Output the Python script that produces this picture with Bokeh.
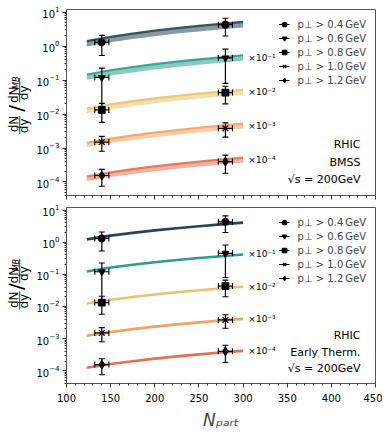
import math
from bokeh.plotting import figure
from bokeh.models import (Range1d, Label, Legend, LegendItem, ColumnDataSource,
                          SingleIntervalTicker)
from bokeh.layouts import column, row
from bokeh.embed import file_html
from bokeh.resources import INLINE
from bokeh.core.properties import value

# ---------------- data ----------------
cuts = ["0.4", "0.6", "0.8", "1.0", "1.2"]
scales = [1.0, 1e-1, 1e-2, 1e-3, 1e-4]
scale_labels = ["", "×10⁻¹", "×10⁻²", "×10⁻³", "×10⁻⁴"]
colors = ["#264653", "#2a9d8f", "#e9c46a", "#f4a261", "#e76f51"]
markers = ["circle", "inverted_triangle", "square", "x", "diamond"]
x_ticks = [100, 150, 200, 250, 300, 350, 400, 450]

# measured points (unscaled), symmetric errors
npart_pts = [140, 280]
npart_err = [8, 8]
pt_04 = [1.30, 4.30]
pt_06 = [1.20, 4.50]
pt_08 = [1.32, 4.30]
pt_10 = [1.50, 3.80]
pt_12 = [1.55, 4.00]
err_04 = [0.77, 2.30]
err_06 = [1.05, 3.70]
err_08 = [0.75, 2.30]
err_10 = [0.70, 1.70]
err_12 = [0.80, 2.20]

# model curves (unscaled)
npart_model = [123, 150, 175, 200, 225, 250, 275, 300]
# Early thermalisation (lines, bottom panel)
et_04 = [1.22, 1.60, 1.95, 2.33, 2.72, 3.13, 3.57, 4.05]
et_06 = [1.23, 1.62, 1.98, 2.37, 2.78, 3.20, 3.66, 4.15]
et_08 = [1.23, 1.61, 1.97, 2.36, 2.76, 3.18, 3.62, 4.10]
et_10 = [1.23, 1.61, 1.97, 2.36, 2.77, 3.20, 3.64, 4.10]
et_12 = [1.24, 1.62, 1.98, 2.38, 2.79, 3.22, 3.67, 4.15]
# BMSS (bands, top panel)
bmss_lo_04 = [0.98, 1.30, 1.62, 1.97, 2.34, 2.72, 3.12, 3.55]
bmss_hi_04 = [1.40, 1.88, 2.35, 2.85, 3.38, 3.95, 4.55, 5.20]
bmss_lo_06 = [1.03, 1.36, 1.68, 2.04, 2.42, 2.82, 3.24, 3.70]
bmss_hi_06 = [1.46, 1.95, 2.43, 2.95, 3.50, 4.10, 4.70, 5.40]
bmss_lo_08 = [1.06, 1.39, 1.71, 2.07, 2.45, 2.85, 3.27, 3.72]
bmss_hi_08 = [1.45, 1.93, 2.40, 2.90, 3.43, 4.00, 4.60, 5.20]
bmss_lo_10 = [1.07, 1.40, 1.72, 2.08, 2.46, 2.86, 3.28, 3.73]
bmss_hi_10 = [1.43, 1.90, 2.37, 2.87, 3.40, 3.96, 4.55, 5.20]
bmss_lo_12 = [1.07, 1.40, 1.72, 2.08, 2.46, 2.86, 3.28, 3.73]
bmss_hi_12 = [1.45, 1.93, 2.40, 2.90, 3.43, 4.00, 4.60, 5.20]

pts = [pt_04, pt_06, pt_08, pt_10, pt_12]
errs = [err_04, err_06, err_08, err_10, err_12]
ets = [et_04, et_06, et_08, et_10, et_12]
bl = [bmss_lo_04, bmss_lo_06, bmss_lo_08, bmss_lo_10, bmss_lo_12]
bh = [bmss_hi_04, bmss_hi_06, bmss_hi_08, bmss_hi_10, bmss_hi_12]

FONT = "DejaVu Sans"
LAB_W = 33
PANEL_W = 349


def sc(lst, s):
    return [v * s for v in lst]


def make_panel(kind, height, top_b, bot_b, show_x):
    p = figure(width=PANEL_W, height=height, x_range=Range1d(100, 450),
               y_range=Range1d(4e-5, 12), y_axis_type="log",
               output_backend="svg", toolbar_location=None,
               min_border_left=30, min_border_right=7,
               min_border_top=top_b, min_border_bottom=bot_b)
    p.grid.visible = False
    p.outline_line_color = "#555555"
    p.background_fill_color = "white"
    p.border_fill_color = "white"
    for ax in (p.xaxis[0], p.yaxis[0]):
        ax.axis_line_color = "#555555"
        ax.major_tick_line_color = "#333333"
        ax.minor_tick_line_color = "#333333"
        ax.major_tick_in = 0
        ax.major_tick_out = 4
        ax.minor_tick_in = 0
        ax.minor_tick_out = 2
        ax.major_label_text_font = FONT
        ax.major_label_text_font_size = "10px"
        ax.major_label_text_color = "black"
    p.yaxis.major_label_standoff = 3
    p.xaxis.ticker = SingleIntervalTicker(interval=50, num_minor_ticks=5)
    if show_x:
        p.xaxis.axis_label = "Nₚₐᵣₜ"
        p.xaxis.axis_label_text_font = FONT
        p.xaxis.axis_label_text_font_style = "italic"
        p.xaxis.axis_label_text_font_size = "17px"
        p.xaxis.axis_label_standoff = 5
        p.xaxis.major_label_standoff = 6
    else:
        p.xaxis.major_label_overrides = {t: "" for t in x_ticks}
        p.xaxis.major_label_standoff = 0

    legend_items = []
    for i in range(5):
        s = scales[i]
        col = colors[i]
        if kind == "bmss":
            src = ColumnDataSource(dict(x=npart_model, lo=sc(bl[i], s), hi=sc(bh[i], s)))
            p.varea(x="x", y1="lo", y2="hi", source=src, fill_color=col, fill_alpha=0.55)
            p.line(x="x", y="hi", source=src, line_color=col, line_width=2.2, line_alpha=0.9)
            yend = (bl[i][-1] + bh[i][-1]) / 2 * s
        else:
            src = ColumnDataSource(dict(x=npart_model, y=sc(ets[i], s)))
            p.line(x="x", y="y", source=src, line_color=col, line_width=2.6)
            yend = ets[i][-1] * s
        if scale_labels[i]:
            p.text(x=[npart_model[-1] + 6], y=[yend], text=[scale_labels[i]],
                   text_font=value(FONT), text_font_size="9px",
                   text_baseline="middle", text_align="left", text_color="black")

        y = sc(pts[i], s)
        e = sc(errs[i], s)
        d = dict(x=npart_pts, y=y,
                 lo=[a - b for a, b in zip(y, e)], hi=[a + b for a, b in zip(y, e)],
                 xl=[a - b for a, b in zip(npart_pts, npart_err)],
                 xr=[a + b for a, b in zip(npart_pts, npart_err)])
        esrc = ColumnDataSource(d)
        p.segment(x0="x", y0="lo", x1="x", y1="hi", source=esrc, line_color="black", line_width=1.2)
        hseg = p.segment(x0="xl", y0="y", x1="xr", y1="y", source=esrc, line_color="black", line_width=1.2)
        for yc in ("hi", "lo"):
            p.scatter(x="x", y=yc, source=esrc, marker="dash", size=6, line_color="black", line_width=1.1)
        for xc in ("xl", "xr"):
            p.scatter(x=xc, y="y", source=esrc, marker="dash", angle=math.pi / 2, size=6,
                      line_color="black", line_width=1.1)
        msize = 8 if markers[i] in ("diamond", "x") else 6.5
        mk = p.scatter(x="x", y="y", source=esrc, marker=markers[i], size=msize,
                       fill_color="black", line_color="black", line_width=1.3)
        legend_items.append(LegendItem(label=f"p⊥ > {cuts[i]}\u2009GeV", renderers=[hseg, mk]))

    leg = Legend(items=legend_items, location="top_right",
                 label_text_font=FONT, label_text_font_size="10px",
                 glyph_width=11, glyph_height=12, label_height=12, spacing=2,
                 padding=3, margin=6, border_line_alpha=0, background_fill_alpha=0,
                 label_standoff=8)
    p.add_layout(leg)

    texts = ["RHIC", "BMSS" if kind == "bmss" else "Early Therm.", "√s = 200GeV"]
    ys = [1.25e-3, 3.8e-4, 1.15e-4]
    for t, yy in zip(texts, ys):
        p.add_layout(Label(x=433, y=yy, text=t, text_align="right", text_baseline="middle",
                           text_font=FONT, text_font_size="11px", text_color="black"))
    return p


def make_ylabel(height, yoff):
    # side canvas holding the rotated y-axis label (dN/dy) / (dN_MB/dy)
    f = figure(width=LAB_W, height=height, x_range=Range1d(0, LAB_W), y_range=Range1d(0, height),
               output_backend="svg", toolbar_location=None,
               min_border_left=0, min_border_right=0, min_border_top=0, min_border_bottom=0)
    f.axis.visible = False
    f.grid.visible = False
    f.outline_line_color = None
    rot = math.pi / 2
    parts = [  # (x, y, text, size, style)
        (13.5, 110, "dN", "12px", "normal"),
        (16.0, 123, "MB", "8px", "italic"),
        (18.5, 115, "────", "10px", "normal"),
        (23.5, 112, "dy", "12px", "normal"),
        (15.0, 95, "/", "20px", "normal"),
        (13.5, 78, "dN", "12px", "normal"),
        (18.5, 77, "───", "10px", "normal"),
        (23.5, 76, "dy", "12px", "normal"),
    ]
    for x, y, t, size, style in parts:
        f.text(x=[x], y=[y + yoff], text=[t], angle=rot, text_align="center",
               text_baseline="middle", text_font=value(FONT), text_font_size=size,
               text_font_style=style, text_color="black")
    return f


top = make_panel("bmss", 203, 9, 8, False)
bot = make_panel("et", 229, 4, 39, True)
lt = make_ylabel(203, 0)
lb = make_ylabel(229, 31)

layout = column(row(lt, top, spacing=0), row(lb, bot, spacing=0), spacing=0)
open("out.html", "w").write(file_html(layout, INLINE))
